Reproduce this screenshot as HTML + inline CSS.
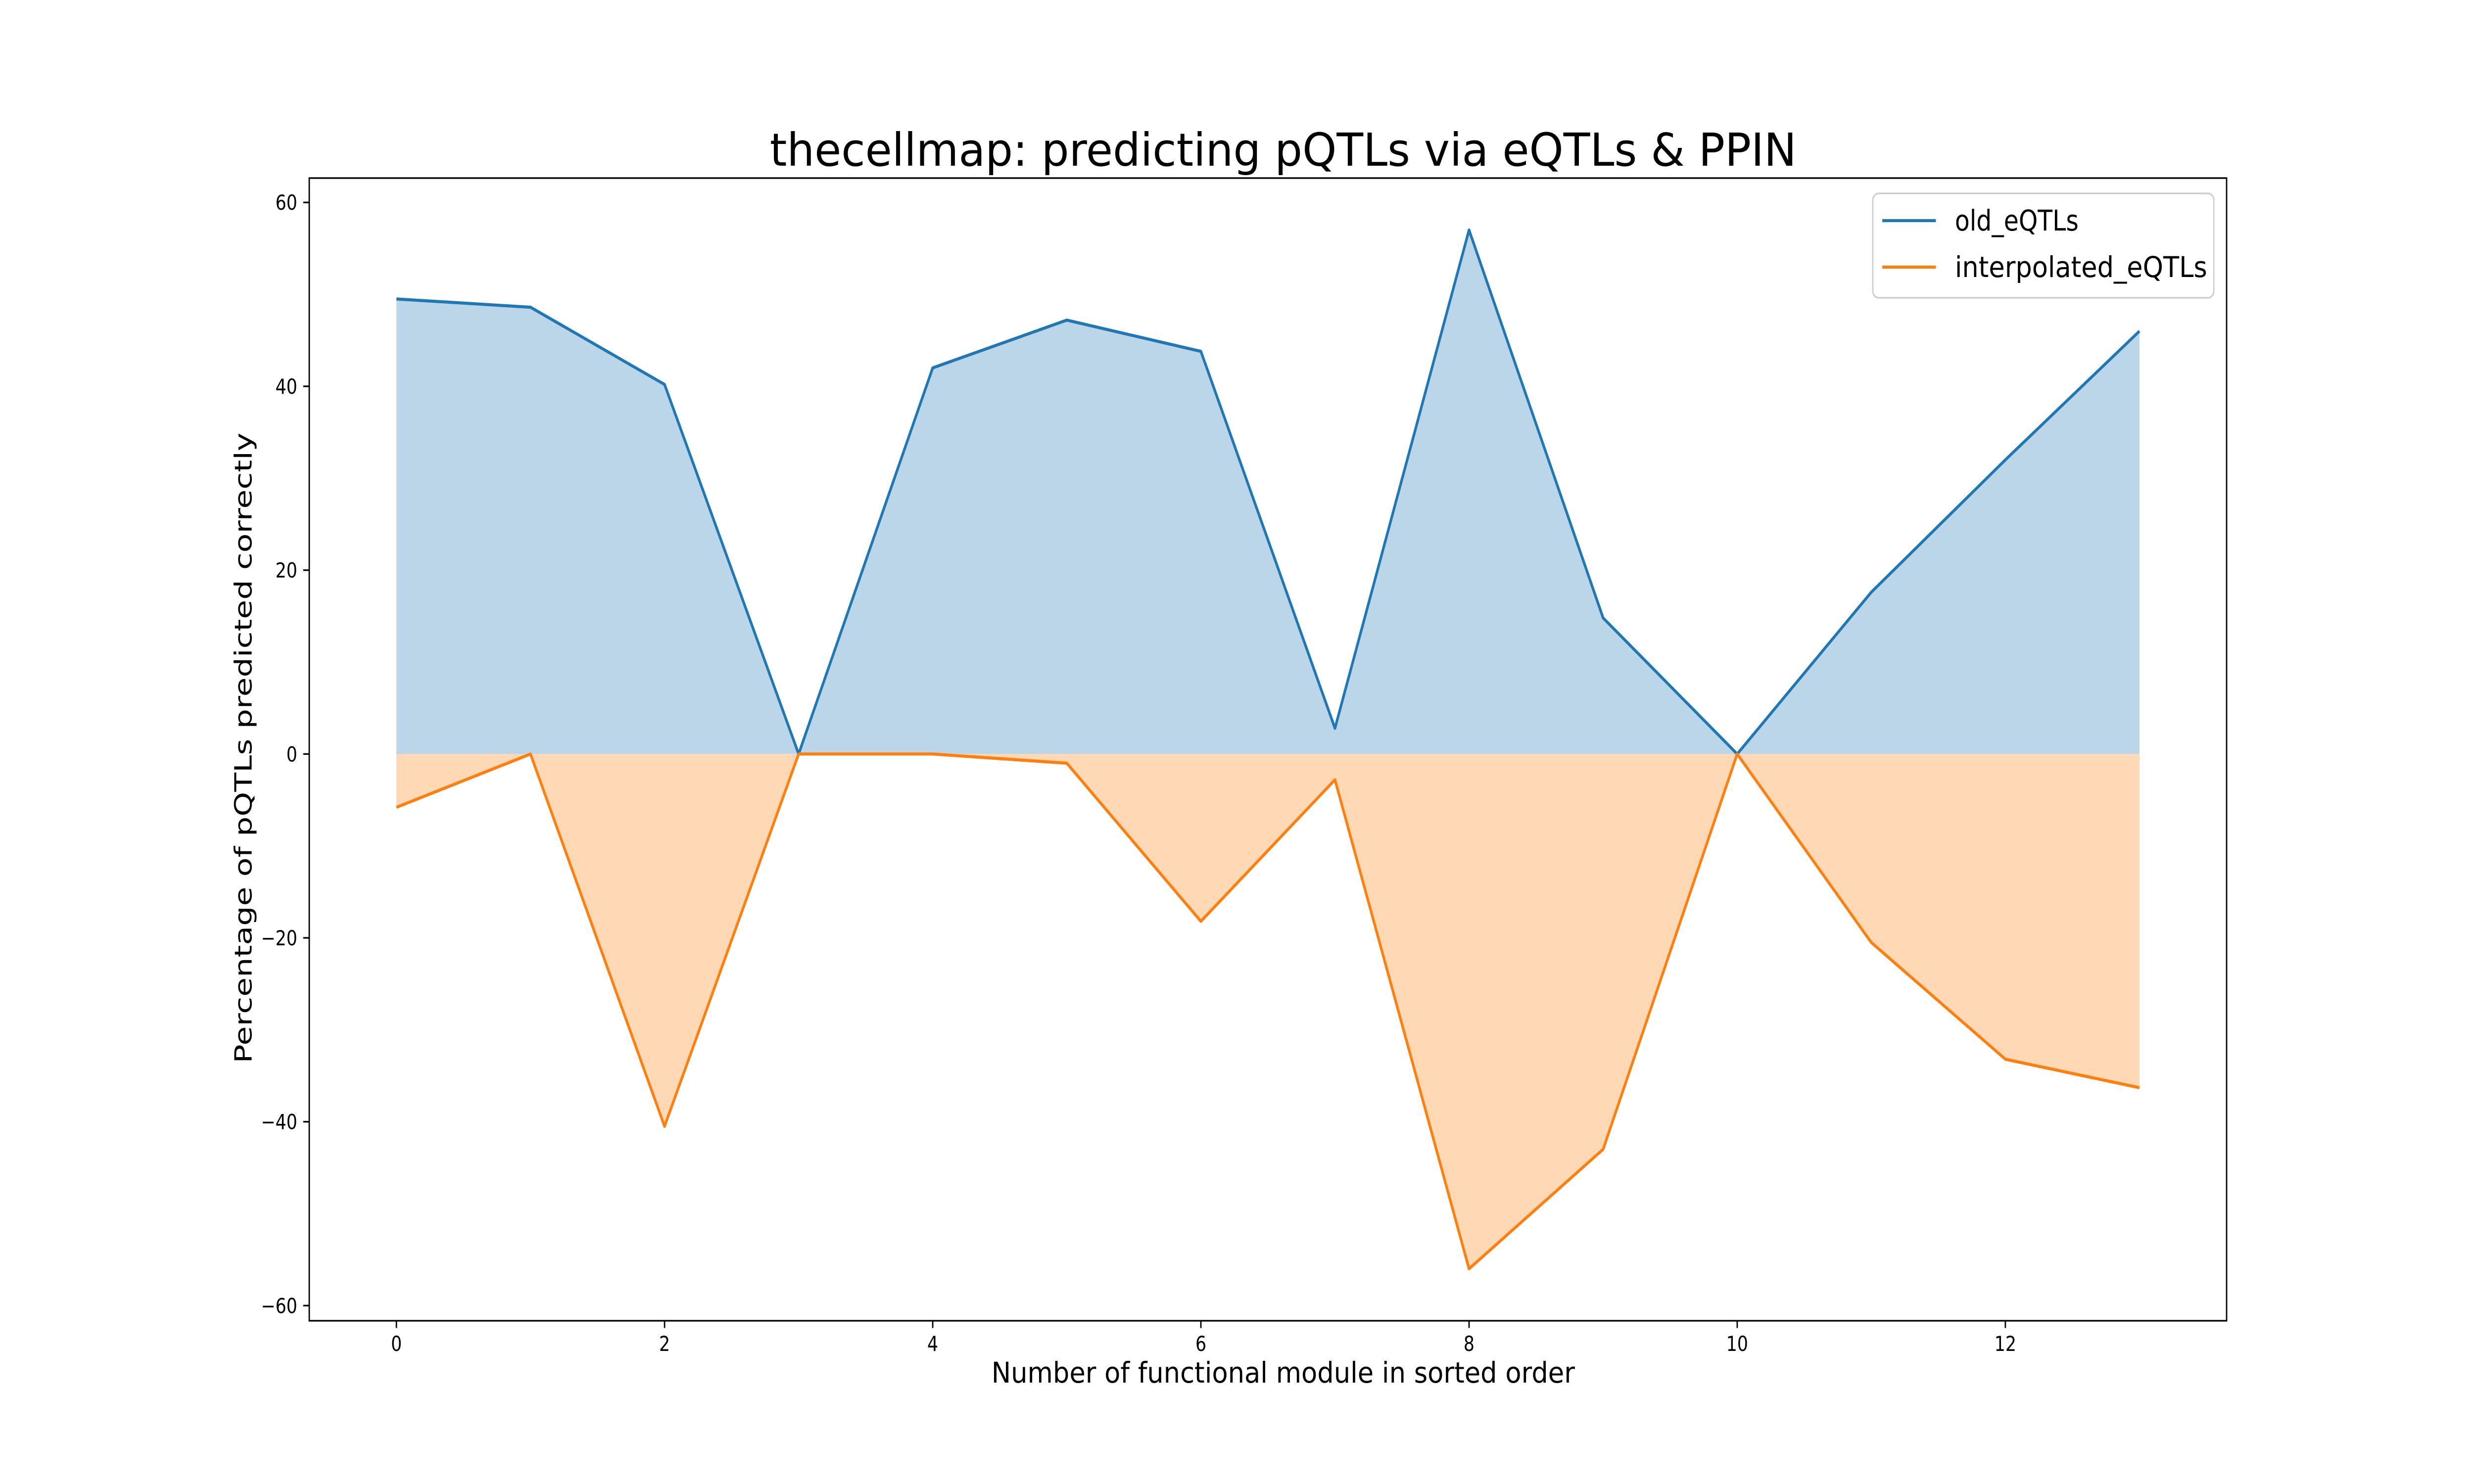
<!DOCTYPE html>
<html><head><meta charset="utf-8"><style>html,body{margin:0;padding:0;background:#fff;overflow:hidden;width:100%;height:100%}svg{display:block;width:100vw;height:100vh}text{font-family:"DejaVu Sans","Liberation Sans",sans-serif}</style></head>
<body>
<svg id="chart" viewBox="0 0 6000 3000" preserveAspectRatio="none" xmlns="http://www.w3.org/2000/svg">
<rect x="0" y="0" width="6000" height="3000" fill="#fff"/>
<g id="plot"></g>
<text x="3112" y="335" font-size="92" text-anchor="middle" textLength="2490" lengthAdjust="spacingAndGlyphs">thecellmap: predicting pQTLs via eQTLs &amp; PPIN</text>
<text x="3112" y="2795" font-size="58" text-anchor="middle" textLength="1415" lengthAdjust="spacingAndGlyphs">Number of functional module in sorted order</text>
<text x="0" y="0" font-size="58" text-anchor="middle" textLength="1275" lengthAdjust="spacingAndGlyphs" transform="translate(610,1512) rotate(-90)">Percentage of pQTLs predicted correctly</text>
<g>
<rect x="4542" y="391" width="827" height="211" rx="14" fill="#fff" fill-opacity="0.8" stroke="#ccc" stroke-width="3.3"/>
<line x1="4565" y1="446" x2="4695" y2="446" stroke="#1f77b4" stroke-width="6.25"/>
<text x="4741" y="466" font-size="58" textLength="300" lengthAdjust="spacingAndGlyphs">old_eQTLs</text>
<line x1="4565" y1="540" x2="4695" y2="540" stroke="#ff7f0e" stroke-width="6.25"/>
<text x="4741" y="560" font-size="58" textLength="612" lengthAdjust="spacingAndGlyphs">interpolated_eQTLs</text>
</g>
</svg>
<script>
const categories = [0,1,2,3,4,5,6,7,8,9,10,11,12,13];
const oldValues = [49.5,48.6,40.2,0,42,47.2,43.8,2.8,57,14.8,0,17.6,32,46];
const interpValues = [-5.8,0,-40.5,0,0,-1,-18.2,-2.8,-56,-43,0,-20.5,-33.2,-36.3];
const xTicks = [0,2,4,6,8,10,12];
const yTicks = [-60,-40,-20,0,20,40,60];

const L=750,R=5400,T=360,B=2670;
const xMin=-0.65,xMax=13.65,yMin=-61.65,yMax=62.65;
const NS="http://www.w3.org/2000/svg";
function sx(v){return L+(v-xMin)/(xMax-xMin)*(R-L);}
function sy(v){return B-(v-yMin)/(yMax-yMin)*(B-T);}
const g=document.getElementById('plot');
function mk(tag,attrs){const e=document.createElementNS(NS,tag);for(const k in attrs)e.setAttribute(k,attrs[k]);return e;}

function series(vals,color,name){
  let d='M'+sx(categories[0])+','+sy(0);
  categories.forEach((c,i)=>{d+=' L'+sx(c)+','+sy(vals[i]);});
  d+=' L'+sx(categories[categories.length-1])+','+sy(0)+' Z';
  const area=mk('path',{d:d,fill:color,'fill-opacity':0.3,stroke:'none'});
  
  
  g.appendChild(area);
  const pts=categories.map((c,i)=>sx(c)+','+sy(vals[i])).join(' ');
  const line=mk('polyline',{points:pts,fill:'none',stroke:color,'stroke-width':6.25,'stroke-linejoin':'round'});
  
  
  g.appendChild(line);
}
series(oldValues,'#1f77b4','old-eqtls');
series(interpValues,'#ff7f0e','interpolated-eqtls');

const frame=mk('rect',{x:L,y:T,width:R-L,height:B-T,fill:'none',stroke:'#000','stroke-width':3.3});


g.appendChild(frame);

xTicks.forEach(v=>{
  const x=sx(v);
  const t=mk('line',{x1:x,y1:B,x2:x,y2:B+14.6,stroke:'#000','stroke-width':3.3});
  
  
  g.appendChild(t);
  const lb=mk('text',{x:x,y:B+61,'font-size':41.7,'text-anchor':'middle'});
  lb.textContent=String(v);
  
  
  g.appendChild(lb);
});
yTicks.forEach(v=>{
  const y=sy(v);
  const t=mk('line',{x1:L-14.6,y1:y,x2:L,y2:y,stroke:'#000','stroke-width':3.3});
  
  
  g.appendChild(t);
  const lb=mk('text',{x:L-29,y:y+15,'font-size':41.7,'text-anchor':'end'});
  lb.textContent=(v<0?'\u2212'+Math.abs(v):String(v));
  
  
  g.appendChild(lb);
});
</script>
</body></html>
